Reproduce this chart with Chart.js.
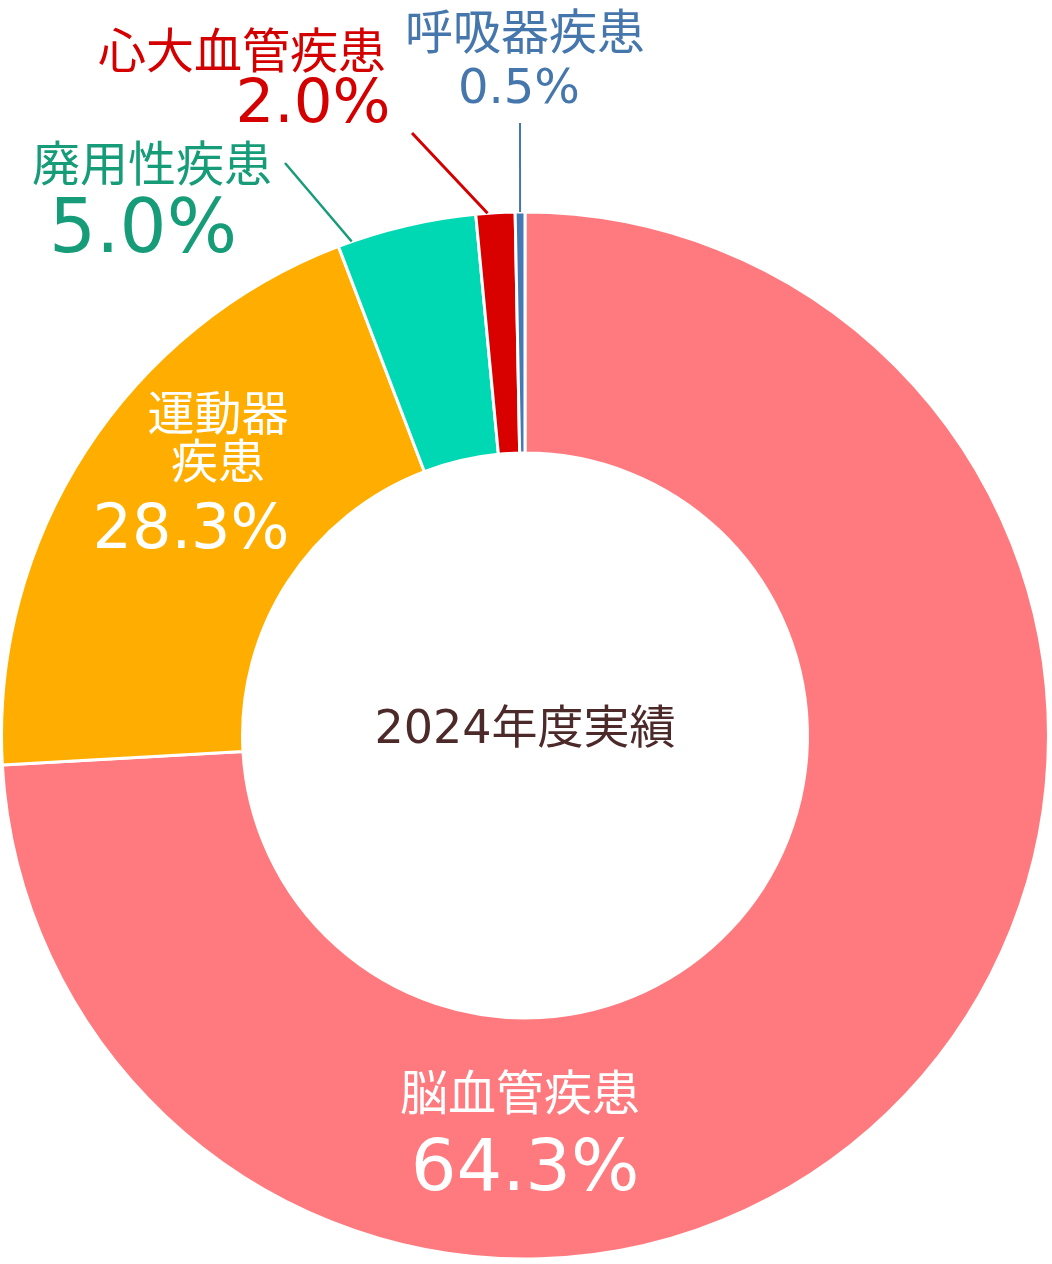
<!DOCTYPE html>
<html>
<head>
<meta charset="utf-8">
<script src="https://cdn.jsdelivr.net/npm/chart.js@4.4.1/dist/chart.umd.min.js"></script>
<style>
  html, body { margin: 0; padding: 0; background: #fff; }
  #wrap { width: 1052px; height: 1264px; }
</style>
</head>
<body>
<div id="wrap"><canvas id="chart" width="1052" height="1264"></canvas></div>
<script>
// categories, clockwise from 12 o'clock
var categories = ['脳血管疾患', '運動器疾患', '廃用性疾患', '心大血管疾患', '呼吸器疾患'];
// percentages printed on the picture
var percentText = ['64.3%', '28.3%', '5.0%', '2.0%', '0.5%'];
// share of the ring each slice takes as drawn (the picture is not to scale)
var sliceShares = [74.1, 20.1, 4.3, 1.2, 0.3];
var sliceColors = ['#FF7A7E', '#FFAE00', '#00D8B4', '#D90000', '#4479B3'];
var centerTitle = '2024年度実績';

var CJK = "'Noto Sans CJK JP', 'Noto Sans CJK SC', sans-serif";
var NUM = "'DejaVu Sans', 'Noto Sans CJK JP', sans-serif";

// where each label goes (split = where the name wraps)
var labelLayout = [
    { split: 0, names: [[520, 1092]], nameSize: 48, pct: [525, 1190, 72], color: '#FFFFFF' },
    { split: 3, names: [[218, 412], [218, 460]], nameSize: 47, pct: [191, 548, 62], color: '#FFFFFF' },
    { split: 0, names: [[152, 163]], nameSize: 48, pct: [143, 252, 74], color: '#169C78',
      leader: { x: 285, y: 163, at: 0.1, width: 2.5 } },
    { split: 0, names: [[242, 50]], nameSize: 48, pct: [313, 122, 61], color: '#D40000',
      leader: { x: 412, y: 133, at: 0.3, width: 3 } },
    { split: 0, names: [[525, 31]], nameSize: 48, pct: [519, 103, 48], color: '#4577AD',
      leader: { x: 520, y: 123, at: 0.5, width: 2 } }
];

// draws the names, percentages, leader lines and the centre title
var labelPlugin = {
    id: 'sliceLabels',
    afterDatasetsDraw: function (chart) {
        var ctx = chart.ctx;
        var arcs = chart.getDatasetMeta(0).data;
        ctx.save();
        ctx.textAlign = 'center';

        labelLayout.forEach(function (lay, i) {
            var name = categories[i];
            var parts = lay.split ? [name.slice(0, lay.split), name.slice(lay.split)] : [name];

            ctx.fillStyle = lay.color;
            ctx.textBaseline = 'middle';
            ctx.font = lay.nameSize + 'px ' + CJK;
            parts.forEach(function (p, k) {
                ctx.fillText(p, lay.names[k][0], lay.names[k][1]);
            });

            ctx.textBaseline = 'alphabetic';
            ctx.font = lay.pct[2] + 'px ' + NUM;
            ctx.fillText(percentText[i], lay.pct[0], lay.pct[1]);

            if (lay.leader) {
                var a = arcs[i].getProps(['x', 'y', 'startAngle', 'endAngle', 'outerRadius'], true);
                var ang = a.startAngle + (a.endAngle - a.startAngle) * lay.leader.at;
                ctx.strokeStyle = lay.color;
                ctx.lineWidth = lay.leader.width;
                ctx.beginPath();
                ctx.moveTo(lay.leader.x, lay.leader.y);
                ctx.lineTo(a.x + Math.cos(ang) * a.outerRadius, a.y + Math.sin(ang) * a.outerRadius);
                ctx.stroke();
            }
        });

        var c = arcs[0].getProps(['x', 'y'], true);
        ctx.fillStyle = '#4D2A2A';
        ctx.textBaseline = 'alphabetic';
        ctx.font = '46px ' + NUM;
        ctx.fillText(centerTitle, c.x, c.y + 7.5);
        ctx.restore();
    }
};

var config = {
    type: 'doughnut',
    data: {
        labels: categories,
        datasets: [{
            data: sliceShares,
            backgroundColor: sliceColors,
            borderColor: '#FFFFFF',
            borderWidth: 3
        }]
    },
    options: {
        responsive: false,
        animation: false,
        devicePixelRatio: 1,
        radius: 523.5,
        cutout: '53.96%',
        layout: { padding: { left: 0, right: 2, top: 207, bottom: 0 } },
        plugins: { legend: { display: false }, tooltip: { enabled: false } }
    },
    plugins: [labelPlugin]
};

new Chart(document.getElementById('chart').getContext('2d'), config);
</script>
</body>
</html>
